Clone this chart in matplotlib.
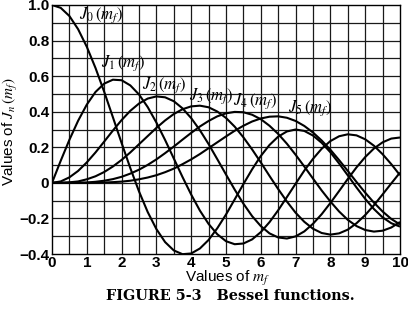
import numpy as np
import matplotlib
matplotlib.use("Agg")
import matplotlib.pyplot as plt

# m_f values (step 0.25) and Bessel function values
mf = [i * 0.25 for i in range(41)]
J0 = [1.000, 0.984, 0.938, 0.864, 0.765, 0.646, 0.512, 0.369, 0.224, 0.083, -0.048, -0.164, -0.260, -0.333, -0.380, -0.401, -0.397, -0.369, -0.321, -0.255, -0.178, -0.093, -0.007, 0.076, 0.151, 0.213, 0.260, 0.289, 0.300, 0.292, 0.266, 0.225, 0.172, 0.109, 0.042, -0.026, -0.090, -0.147, -0.194, -0.227, -0.246]
J1 = [0.000, 0.124, 0.242, 0.349, 0.440, 0.511, 0.558, 0.580, 0.577, 0.548, 0.497, 0.426, 0.339, 0.241, 0.137, 0.033, -0.066, -0.156, -0.231, -0.289, -0.328, -0.345, -0.341, -0.318, -0.277, -0.221, -0.154, -0.080, -0.005, 0.069, 0.135, 0.192, 0.235, 0.262, 0.273, 0.267, 0.245, 0.209, 0.161, 0.105, 0.043]
J2 = [0.000, 0.008, 0.031, 0.067, 0.115, 0.171, 0.232, 0.294, 0.353, 0.405, 0.446, 0.474, 0.486, 0.481, 0.459, 0.419, 0.364, 0.296, 0.218, 0.133, 0.047, -0.038, -0.117, -0.187, -0.243, -0.284, -0.307, -0.313, -0.301, -0.273, -0.230, -0.176, -0.113, -0.046, 0.022, 0.087, 0.145, 0.193, 0.228, 0.249, 0.255]
J3 = [0.000, 0.000, 0.003, 0.008, 0.020, 0.037, 0.061, 0.092, 0.129, 0.171, 0.217, 0.263, 0.309, 0.351, 0.387, 0.414, 0.430, 0.434, 0.425, 0.401, 0.365, 0.316, 0.256, 0.188, 0.115, 0.039, -0.035, -0.105, -0.168, -0.219, -0.258, -0.282, -0.291, -0.284, -0.263, -0.227, -0.181, -0.126, -0.065, -0.003, 0.058]
J4 = [0.000, 0.000, 0.000, 0.001, 0.002, 0.006, 0.012, 0.021, 0.034, 0.052, 0.074, 0.101, 0.132, 0.167, 0.204, 0.243, 0.281, 0.317, 0.348, 0.374, 0.391, 0.399, 0.397, 0.383, 0.358, 0.321, 0.275, 0.220, 0.158, 0.092, 0.024, -0.043, -0.105, -0.161, -0.208, -0.243, -0.265, -0.274, -0.269, -0.251, -0.220]
J5 = [0.000, 0.000, 0.000, 0.000, 0.000, 0.001, 0.002, 0.004, 0.007, 0.012, 0.020, 0.030, 0.043, 0.060, 0.080, 0.105, 0.132, 0.162, 0.195, 0.228, 0.261, 0.293, 0.321, 0.345, 0.362, 0.372, 0.374, 0.366, 0.348, 0.320, 0.283, 0.238, 0.186, 0.128, 0.067, 0.005, -0.055, -0.111, -0.161, -0.203, -0.234]

series = [J0, J1, J2, J3, J4, J5]
curve_labels = [r"$J_0\,(m_f)$", r"$J_1\,(m_f)$", r"$J_2\,(m_f)$",
                r"$J_3\,(m_f)$", r"$J_4\,(m_f)$", r"$J_5\,(m_f)$"]
label_pos = [(0.78, 0.945), (1.42, 0.673), (2.60, 0.549),
             (3.95, 0.49), (5.20, 0.46), (6.78, 0.42)]

x_ticks = [0, 1, 2, 3, 4, 5, 6, 7, 8, 9, 10]
y_ticks = [-0.4, -0.2, 0, 0.2, 0.4, 0.6, 0.8, 1.0]
y_tick_labels = ["\u22120.4", "\u22120.2", "0", "0.2", "0.4", "0.6", "0.8", "1.0"]

plt.rcParams["mathtext.fontset"] = "stix"

fig = plt.figure(figsize=(4.08, 3.17), dpi=100)
ax = fig.add_axes([52 / 408, 1 - 254 / 317, 348 / 408, 249 / 317])

ax.set_xlim(0, 10)
ax.set_ylim(-0.4, 1.0)

# grid every 0.5 in x and 0.1 in y
for gx in np.arange(0.5, 10, 0.5):
    ax.axvline(gx, color="#1a1a1a", lw=0.9, zorder=1)
for gy in np.arange(-0.3, 1.0, 0.1):
    ax.axhline(gy, color="#1a1a1a", lw=0.9, zorder=1)

for ys in series:
    ax.plot(mf, ys, color="black", lw=1.5, zorder=3, solid_capstyle="butt")

for lab, (lx, ly) in zip(curve_labels, label_pos):
    ax.text(lx, ly, lab, fontsize=12, ha="left", va="center", zorder=5)

for s in ax.spines.values():
    s.set_linewidth(1.0)
    s.set_color("black")

ax.set_xticks(x_ticks)
ax.set_xticklabels([str(t) for t in x_ticks])
ax.set_yticks(y_ticks)
ax.set_yticklabels(y_tick_labels)
ax.tick_params(axis="y", length=0, pad=2)
ax.tick_params(axis="x", length=0, pad=1.5)
for t in ax.get_xticklabels() + ax.get_yticklabels():
    t.set_fontfamily("Liberation Sans")
    t.set_fontweight("bold")
    t.set_fontsize(11)

fig.text(228 / 408, 1 - 282 / 317, r"Values of $m_f$", fontsize=11,
         family="Liberation Sans", ha="center", va="baseline")
fig.text(10.5 / 408, 1 - 132 / 317, r"Values of $J_n\,(m_f)$", fontsize=11,
         family="Liberation Sans", ha="center", va="center", rotation=90)

fig.text(230 / 408, 1 - 300 / 317, "FIGURE 5-3   Bessel functions.", ha="center", va="baseline",
         family="DejaVu Serif", fontweight="bold", fontsize=10.4)

fig.savefig("out.png", dpi=100)
